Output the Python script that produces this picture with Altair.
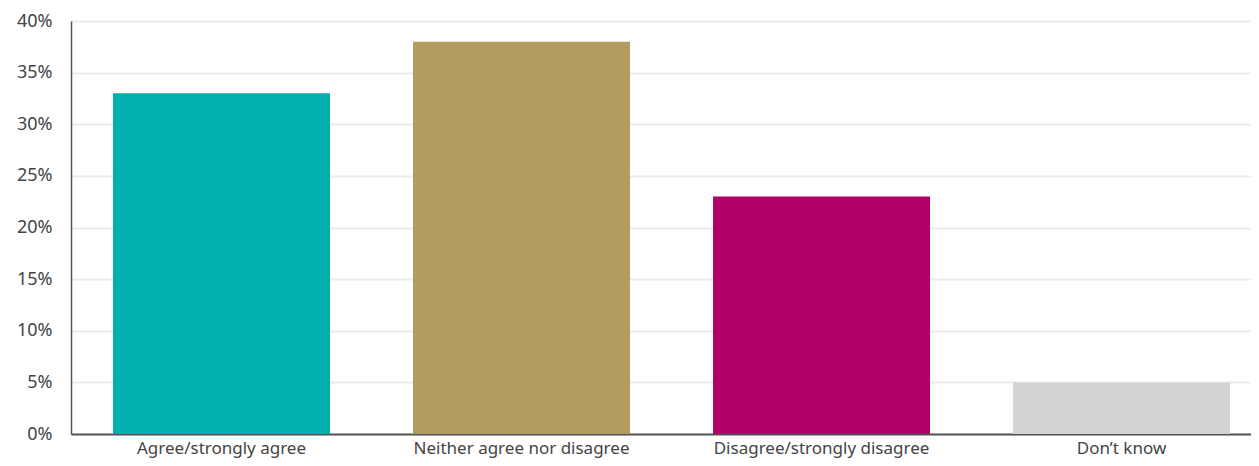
import altair as alt
import pandas as pd

categories = ["Agree/strongly agree", "Neither agree nor disagree", "Disagree/strongly disagree", "Don\u2019t know"]
values = [33, 38, 23, 5]
colors = ["#00AFAE", "#B29C62", "#B2006A", "#D3D3D3"]

df = pd.DataFrame({"category": categories, "value": values})

FONT = "Noto Sans"

chart = alt.Chart(df).mark_bar().encode(
    x=alt.X("category:N", sort=categories,
            scale=alt.Scale(paddingInner=0.2767, paddingOuter=0.105, align=0.667),
            axis=alt.Axis(title=None, labelAngle=0, labelFontSize=17, labelColor="#444444",
                          labelFont=FONT, ticks=False, labelPadding=19, labelBaseline="alphabetic",
                          labelLimit=0, domainColor="#555555", domainWidth=2, grid=False)),
    y=alt.Y("value:Q", scale=alt.Scale(domain=[0, 40], nice=False),
            axis=alt.Axis(title=None, values=[0, 5, 10, 15, 20, 25, 30, 35, 40],
                          labelExpr="datum.value + '%'", labelFontSize=18,
                          labelColor="#444444", labelFont=FONT, ticks=False,
                          labelPadding=19, domainColor="#555555", domainWidth=1.5,
                          gridColor="#EBEBEB", gridWidth=2)),
    color=alt.Color("category:N", sort=categories,
                    scale=alt.Scale(domain=categories, range=colors), legend=None),
).properties(
    width=1180, height=413,
    autosize=alt.AutoSizeParams(type="none"),
    padding={"left": 63, "top": 13, "right": 0, "bottom": 24},
).configure_view(stroke=None).configure(background="white")

chart.save("out.html", embed_options={"renderer": "svg", "actions": False})
